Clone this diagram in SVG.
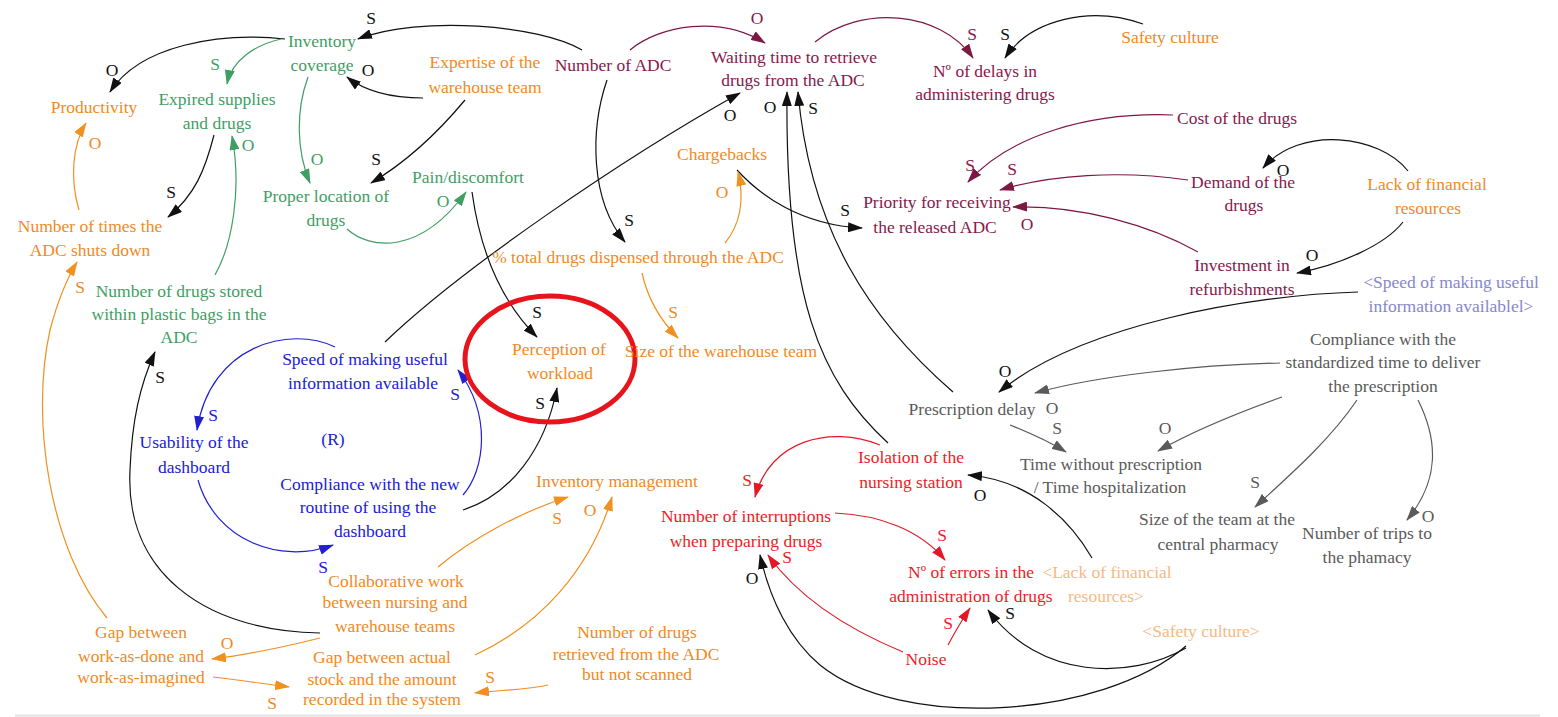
<svg xmlns="http://www.w3.org/2000/svg" width="1558" height="717" viewBox="0 0 1558 717" font-family="Liberation Serif, DejaVu Serif, serif">
<style>
  text { font-family: 'Liberation Serif', 'DejaVu Serif', 'Times New Roman', serif; font-size: 17.5px; text-anchor: middle; }
  .or { fill: #ef8a1f; }
  .gr { fill: #3f9e63; }
  .mr { fill: #87174c; }
  .bl { fill: #2020d8; }
  .rd { fill: #ec1c24; }
  .gy { fill: #5a5a5a; }
  .lo { fill: #f6b984; }
  .lp { fill: #8686cc; }
  .bk { fill: #111; }
  .c { fill: none; stroke-width: 1.2; }
  .ck { stroke: #111; marker-end: url(#ak); }
  .cg { stroke: #3f9e63; marker-end: url(#ag); }
  .co { stroke: #f0901e; marker-end: url(#ao); }
  .cm { stroke: #7d1845; marker-end: url(#am); }
  .cb { stroke: #2020d0; marker-end: url(#ab); }
  .cr { stroke: #e01a28; marker-end: url(#ar); }
  .cy { stroke: #5a5a5a; marker-end: url(#ay); }
</style>
<defs>
  <marker id="ak" viewBox="0 0 15 10" refX="14" refY="5" markerWidth="15" markerHeight="10" markerUnits="userSpaceOnUse" orient="auto"><path d="M0,0 L15,5 L0,10 z" fill="#111"/></marker>
  <marker id="ag" viewBox="0 0 15 10" refX="14" refY="5" markerWidth="15" markerHeight="10" markerUnits="userSpaceOnUse" orient="auto"><path d="M0,0 L15,5 L0,10 z" fill="#3f9e63"/></marker>
  <marker id="ao" viewBox="0 0 15 10" refX="14" refY="5" markerWidth="15" markerHeight="10" markerUnits="userSpaceOnUse" orient="auto"><path d="M0,0 L15,5 L0,10 z" fill="#f0901e"/></marker>
  <marker id="am" viewBox="0 0 15 10" refX="14" refY="5" markerWidth="15" markerHeight="10" markerUnits="userSpaceOnUse" orient="auto"><path d="M0,0 L15,5 L0,10 z" fill="#7d1845"/></marker>
  <marker id="ab" viewBox="0 0 15 10" refX="14" refY="5" markerWidth="15" markerHeight="10" markerUnits="userSpaceOnUse" orient="auto"><path d="M0,0 L15,5 L0,10 z" fill="#2020d0"/></marker>
  <marker id="ar" viewBox="0 0 15 10" refX="14" refY="5" markerWidth="15" markerHeight="10" markerUnits="userSpaceOnUse" orient="auto"><path d="M0,0 L15,5 L0,10 z" fill="#e01a28"/></marker>
  <marker id="ay" viewBox="0 0 15 10" refX="14" refY="5" markerWidth="15" markerHeight="10" markerUnits="userSpaceOnUse" orient="auto"><path d="M0,0 L15,5 L0,10 z" fill="#5a5a5a"/></marker>
</defs>

<rect x="0" y="0" width="1558" height="717" fill="#fff"/>
<line x1="15" y1="715.5" x2="1540" y2="715.5" stroke="#e2e2e2" stroke-width="2"/>

<!-- causal links -->
<g id="connectors">
  <path class="c ck" d="M582,50 C540,25 420,15 358,39"/>
  <path class="c ck" d="M285,39 C220,32 140,45 110,92"/>
  <path class="c cg" d="M281,39 C255,45 232,60 227,84"/>
  <path class="c ck" d="M423,98 C400,98 370,95 347,77"/>
  <path class="c cg" d="M308,77 C296,110 296,150 310,183"/>
  <path class="c ck" d="M465,100 C440,130 410,160 371,183"/>
  <path class="c ck" d="M214,135 C205,170 195,195 168,217"/>
  <path class="c cg" d="M215,275 C232,245 242,190 232,136"/>
  <path class="c co" d="M79,210 C70,180 72,145 86,123"/>
  <path class="c cg" d="M347,229 C370,250 420,255 466,192"/>
  <path class="c ck" d="M472,192 C480,250 500,300 537,337"/>
  <path class="c ck" d="M607,80 C590,130 590,200 625,242"/>
  <path class="c ck" d="M385,342 C460,270 620,160 740,93"/>
  <path class="c cm" d="M630,50 C660,25 720,15 765,43"/>
  <path class="c cm" d="M815,42 C860,5 940,10 973,58"/>
  <path class="c ck" d="M1143,24 C1090,5 1030,20 1005,58"/>
  <path class="c ck" d="M737,170 C760,195 800,225 862,228"/>
  <path class="c co" d="M725,243 C740,225 745,200 738,172"/>
  <path class="c co" d="M642,273 C648,300 660,320 678,338"/>
  <path class="c cm" d="M1173,115 C1090,112 1010,135 968,182"/>
  <path class="c cm" d="M1188,180 C1120,170 1050,175 1000,190"/>
  <path class="c cm" d="M1198,252 C1150,225 1080,205 1013,207"/>
  <path class="c ck" d="M1408,171 C1380,135 1300,125 1263,168"/>
  <path class="c ck" d="M1403,222 C1385,245 1340,265 1297,273"/>
  <path class="c ck" d="M1358,292 C1250,295 1080,325 999,392"/>
  <path class="c cy" d="M1280,363 C1200,365 1100,375 1035,393"/>
  <path class="c cy" d="M1010,425 C1030,433 1050,442 1066,452"/>
  <path class="c cy" d="M1282,397 C1240,412 1195,430 1158,451"/>
  <path class="c cy" d="M1357,400 C1330,440 1290,475 1255,507"/>
  <path class="c cy" d="M1418,400 C1438,440 1440,480 1407,520"/>
  <path class="c ck" d="M953,392 C870,320 810,230 798,92"/>
  <path class="c ck" d="M888,443 C820,380 785,300 787,92"/>
  <path class="c cb" d="M335,347 C290,325 210,345 197,430"/>
  <path class="c cb" d="M198,480 C215,540 280,565 333,545"/>
  <path class="c cb" d="M463,495 C485,470 492,415 458,370"/>
  <path class="c ck" d="M463,510 C510,495 545,450 557,388"/>
  <path class="c ck" d="M320,633 C200,630 125,570 130,470 C132,420 140,385 155,352"/>
  <path class="c co" d="M107,618 C50,550 30,420 50,330 C58,300 66,280 77,262"/>
  <path class="c co" d="M320,638 C280,648 245,655 212,659"/>
  <path class="c co" d="M213,677 C240,680 265,684 289,687"/>
  <path class="c co" d="M438,567 C470,540 520,512 568,497"/>
  <path class="c co" d="M475,655 C540,625 590,570 612,497"/>
  <path class="c co" d="M548,685 C525,690 500,690 475,693"/>
  <path class="c cr" d="M880,445 C830,425 770,440 755,497"/>
  <path class="c cr" d="M835,513 C880,515 920,530 945,560"/>
  <path class="c cr" d="M948,645 C955,632 962,620 970,608"/>
  <path class="c cr" d="M903,652 C850,630 800,600 768,555"/>
  <path class="c ck" d="M1186,646 C1100,720 900,730 820,665 C790,640 770,600 760,555"/>
  <path class="c ck" d="M1186,648 C1130,680 1040,680 988,610"/>
  <path class="c ck" d="M1092,558 C1070,520 1030,480 968,475"/>

  <!-- polarity labels -->
  <text class="bk" x="371" y="24">S</text>
  <text class="bk" x="112" y="76">O</text>
  <text class="gr" x="215" y="70">S</text>
  <text class="bk" x="368" y="76">O</text>
  <text class="gr" x="317" y="165">O</text>
  <text class="bk" x="376" y="165">S</text>
  <text class="bk" x="171" y="198">S</text>
  <text class="gr" x="248" y="151">O</text>
  <text class="or" x="95" y="149">O</text>
  <text class="gr" x="443" y="207">O</text>
  <text class="bk" x="537" y="318">S</text>
  <text class="bk" x="629" y="226">S</text>
  <text class="bk" x="730" y="121">O</text>
  <text class="mr" x="757" y="24">O</text>
  <text class="mr" x="972" y="40">S</text>
  <text class="bk" x="1005" y="40">S</text>
  <text class="bk" x="845" y="216">S</text>
  <text class="or" x="722" y="198">O</text>
  <text class="or" x="673" y="318">S</text>
  <text class="mr" x="970" y="171">S</text>
  <text class="mr" x="1012" y="175">S</text>
  <text class="mr" x="1027" y="230">O</text>
  <text class="bk" x="1283" y="176">O</text>
  <text class="bk" x="1312" y="261">O</text>
  <text class="bk" x="1005" y="377">O</text>
  <text class="gy" x="1052" y="414">O</text>
  <text class="gy" x="1057" y="434">S</text>
  <text class="gy" x="1165" y="434">O</text>
  <text class="gy" x="1255" y="488">S</text>
  <text class="gy" x="1428" y="522">O</text>
  <text class="bk" x="813" y="114">S</text>
  <text class="bk" x="770" y="113">O</text>
  <text class="bl" x="213" y="421">S</text>
  <text class="bl" x="323" y="573">S</text>
  <text class="bl" x="455" y="400">S</text>
  <text class="bk" x="540" y="409">S</text>
  <text class="bk" x="160" y="383">S</text>
  <text class="or" x="80" y="293">S</text>
  <text class="or" x="227" y="649">O</text>
  <text class="or" x="272" y="709">S</text>
  <text class="or" x="557" y="524">S</text>
  <text class="or" x="590" y="516">O</text>
  <text class="or" x="490" y="683">S</text>
  <text class="rd" x="747" y="486">S</text>
  <text class="rd" x="942" y="541">S</text>
  <text class="rd" x="948" y="629">S</text>
  <text class="rd" x="787" y="563">S</text>
  <text class="bk" x="752" y="584">O</text>
  <text class="bk" x="1010" y="619">S</text>
  <text class="bk" x="980" y="501">O</text>
</g>

<!-- variables -->
<g id="inventory-coverage"><text class="gr" x="322" y="47">Inventory</text><text class="gr" x="322" y="71">coverage</text></g>
<g id="productivity"><text class="or" x="94" y="113">Productivity</text></g>
<g id="expired-supplies"><text class="gr" x="217" y="105">Expired supplies</text><text class="gr" x="217" y="129">and drugs</text></g>
<g id="expertise-warehouse"><text class="or" x="485" y="68">Expertise of the</text><text class="or" x="485" y="93">warehouse team</text></g>
<g id="number-adc"><text class="mr" x="613" y="71">Number of ADC</text></g>
<g id="waiting-time"><text class="mr" x="794" y="63">Waiting time to retrieve</text><text class="mr" x="793" y="86">drugs from the ADC</text></g>
<g id="delays"><text class="mr" x="985" y="77">Nº of delays in</text><text class="mr" x="985" y="100">administering drugs</text></g>
<g id="safety-culture"><text class="or" x="1170" y="43">Safety culture</text></g>
<g id="cost-drugs"><text class="mr" x="1237" y="124">Cost of the drugs</text></g>
<g id="demand-drugs"><text class="mr" x="1243" y="188">Demand of the</text><text class="mr" x="1244" y="211">drugs</text></g>
<g id="lack-financial"><text class="or" x="1427" y="190">Lack of financial</text><text class="or" x="1428" y="214">resources</text></g>
<g id="chargebacks"><text class="or" x="722" y="160">Chargebacks</text></g>
<g id="priority-adc"><text class="mr" x="937" y="208">Priority for receiving</text><text class="mr" x="935" y="233">the released ADC</text></g>
<g id="pain"><text class="gr" x="468" y="183">Pain/discomfort</text></g>
<g id="proper-location"><text class="gr" x="326" y="202">Proper location of</text><text class="gr" x="326" y="226">drugs</text></g>
<g id="adc-shutdowns"><text class="or" x="90" y="232">Number of times the</text><text class="or" x="90" y="256">ADC shuts down</text></g>
<g id="pct-dispensed"><text class="or" x="638" y="263">% total drugs dispensed through the ADC</text></g>
<g id="investment"><text class="mr" x="1242" y="271">Investment in</text><text class="mr" x="1242" y="295">refurbishments</text></g>
<g id="speed-shadow"><text class="lp" x="1451" y="288">&lt;Speed of making useful</text><text class="lp" x="1451" y="312">information availablel&gt;</text></g>
<g id="drugs-plastic-bags"><text class="gr" x="179" y="297">Number of drugs stored</text><text class="gr" x="179" y="320">within plastic bags in the</text><text class="gr" x="179" y="343">ADC</text></g>
<g id="perception-workload"><text class="or" x="559" y="355">Perception of</text><text class="or" x="560" y="379">workload</text><ellipse cx="550" cy="359" rx="85" ry="63" fill="none" stroke="#e8141b" stroke-width="5"/></g>
<g id="warehouse-team-size"><text class="or" x="721" y="357">Size of the warehouse team</text></g>
<g id="speed-info"><text class="bl" x="365" y="365">Speed of making useful</text><text class="bl" x="363" y="389">information available</text></g>
<g id="compliance-time"><text class="gy" x="1383" y="345">Compliance with the</text><text class="gy" x="1383" y="368">standardized time to deliver</text><text class="gy" x="1383" y="392">the prescription</text></g>
<g id="prescription-delay"><text class="gy" x="972" y="415">Prescription delay</text></g>
<g id="usability"><text class="bl" x="194" y="448">Usability of the</text><text class="bl" x="194" y="473">dashboard</text></g>
<g id="loop-r"><text class="bl" x="333" y="445">(R)</text></g>
<g id="time-without-prescription"><text class="gy" x="1111" y="470">Time without prescription</text><text class="gy" x="1110" y="493">/ Time hospitalization</text></g>
<g id="isolation"><text class="rd" x="911" y="463">Isolation of the</text><text class="rd" x="911" y="488">nursing station</text></g>
<g id="compliance-routine"><text class="bl" x="370" y="490">Compliance with the new</text><text class="bl" x="368" y="513">routine of using the</text><text class="bl" x="370" y="537">dashboard</text></g>
<g id="inventory-management"><text class="or" x="617" y="487">Inventory management</text></g>
<g id="interruptions"><text class="rd" x="746" y="522">Number of interruptions</text><text class="rd" x="746" y="547">when preparing drugs</text></g>
<g id="central-pharmacy-team"><text class="gy" x="1217" y="525">Size of the team at the</text><text class="gy" x="1218" y="550">central pharmacy</text></g>
<g id="trips-pharmacy"><text class="gy" x="1367" y="539">Number of trips to</text><text class="gy" x="1367" y="563">the phamacy</text></g>
<g id="collaborative-work"><text class="or" x="396" y="587">Collaborative work</text><text class="or" x="395" y="608">between nursing and</text><text class="or" x="395" y="632">warehouse teams</text></g>
<g id="errors"><text class="rd" x="971" y="578">Nº of errors in the</text><text class="rd" x="971" y="602">administration of drugs</text></g>
<g id="lack-financial-shadow"><text class="lo" x="1107" y="578">&lt;Lack of financial</text><text class="lo" x="1106" y="602">resources&gt;</text></g>
<g id="safety-culture-shadow"><text class="lo" x="1201" y="637">&lt;Safety culture&gt;</text></g>
<g id="gap-work"><text class="or" x="141" y="638">Gap between</text><text class="or" x="141" y="662">work-as-done and</text><text class="or" x="141" y="683">work-as-imagined</text></g>
<g id="gap-stock"><text class="or" x="382" y="663">Gap between actual</text><text class="or" x="382" y="685">stock and the amount</text><text class="or" x="382" y="705">recorded in the system</text></g>
<g id="not-scanned"><text class="or" x="637" y="638">Number of drugs</text><text class="or" x="636" y="660">retrieved from the ADC</text><text class="or" x="637" y="680">but not scanned</text></g>
<g id="noise"><text class="rd" x="926" y="665">Noise</text></g>
</svg>
